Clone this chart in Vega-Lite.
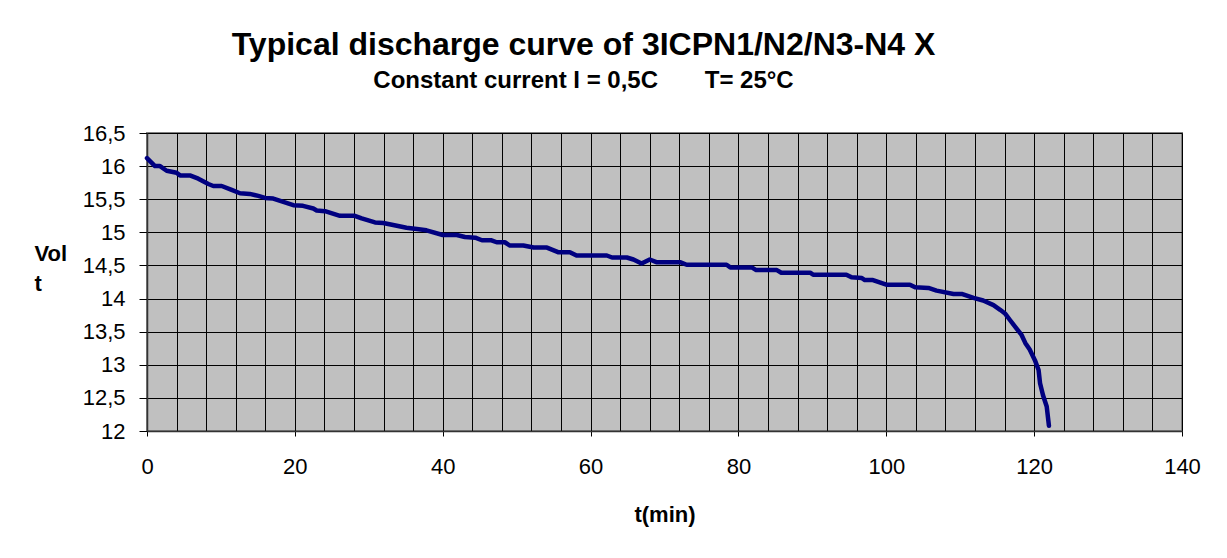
{
  "$schema": "https://vega.github.io/schema/vega-lite/v6.json",
  "width": 1035,
  "height": 298,
  "autosize": {"type": "none"},
  "padding": {"left": 147, "top": 133, "right": 45, "bottom": 127},
  "background": "white",
  "title": {
    "text": "Typical discharge curve of 3ICPN1/N2/N3-N4 X",
    "subtitle": "Constant current I = 0,5C\u00a0\u00a0\u00a0\u00a0\u00a0\u00a0\u00a0T= 25°C",
    "anchor": "middle",
    "frame": "group",
    "dx": -81,
    "offset": 28,
    "font": "Liberation Sans",
    "fontSize": 32,
    "fontWeight": "bold",
    "color": "black",
    "subtitleFont": "Liberation Sans",
    "subtitleFontSize": 24,
    "subtitleFontWeight": "bold",
    "subtitleColor": "black",
    "subtitlePadding": 7
  },
  "config": {
    "view": {"fill": "#C0C0C0", "stroke": "#808080", "strokeWidth": 2},
    "axis": {
      "labelFont": "Liberation Sans",
      "labelFontSize": 22,
      "labelColor": "black",
      "titleFont": "Liberation Sans",
      "titleFontSize": 22,
      "titleFontWeight": "bold",
      "titleColor": "black",
      "gridColor": "black",
      "gridOpacity": 1,
      "gridWidth": 1,
      "domainColor": "#333333",
      "domainWidth": 1.5,
      "tickColor": "black",
      "tickWidth": 1
    }
  },
  "data": {
    "values": [
      {"t": 0, "v": 16.12},
      {"t": 1.08, "v": 16.0},
      {"t": 1.76, "v": 16.0},
      {"t": 2.66, "v": 15.93},
      {"t": 4.0, "v": 15.9},
      {"t": 4.46, "v": 15.86},
      {"t": 5.8, "v": 15.86},
      {"t": 6.94, "v": 15.81},
      {"t": 8.3, "v": 15.73},
      {"t": 8.97, "v": 15.7},
      {"t": 10.1, "v": 15.7},
      {"t": 11.45, "v": 15.64},
      {"t": 12.58, "v": 15.59},
      {"t": 13.9, "v": 15.58},
      {"t": 15.06, "v": 15.55},
      {"t": 15.96, "v": 15.52},
      {"t": 17.08, "v": 15.51},
      {"t": 18.44, "v": 15.46},
      {"t": 19.79, "v": 15.41},
      {"t": 21.1, "v": 15.4},
      {"t": 22.5, "v": 15.36},
      {"t": 22.95, "v": 15.33},
      {"t": 24.08, "v": 15.32},
      {"t": 26.1, "v": 15.25},
      {"t": 28.1, "v": 15.25},
      {"t": 29.04, "v": 15.21},
      {"t": 30.84, "v": 15.15},
      {"t": 31.96, "v": 15.14},
      {"t": 33.3, "v": 15.11},
      {"t": 35.1, "v": 15.07},
      {"t": 36.5, "v": 15.05},
      {"t": 37.8, "v": 15.03},
      {"t": 40.0, "v": 14.96},
      {"t": 41.9, "v": 14.96},
      {"t": 43.0, "v": 14.93},
      {"t": 44.4, "v": 14.92},
      {"t": 45.3, "v": 14.88},
      {"t": 46.6, "v": 14.88},
      {"t": 47.3, "v": 14.85},
      {"t": 48.4, "v": 14.85},
      {"t": 49.1, "v": 14.8},
      {"t": 50.9, "v": 14.8},
      {"t": 52.3, "v": 14.77},
      {"t": 54.1, "v": 14.77},
      {"t": 55.6, "v": 14.7},
      {"t": 57.2, "v": 14.7},
      {"t": 58.1, "v": 14.65},
      {"t": 62.2, "v": 14.65},
      {"t": 62.9, "v": 14.62},
      {"t": 64.9, "v": 14.62},
      {"t": 65.8, "v": 14.59},
      {"t": 66.9, "v": 14.53},
      {"t": 68.0, "v": 14.59},
      {"t": 68.9, "v": 14.55},
      {"t": 72.1, "v": 14.55},
      {"t": 73.0, "v": 14.51},
      {"t": 78.4, "v": 14.51},
      {"t": 78.9, "v": 14.47},
      {"t": 81.8, "v": 14.47},
      {"t": 82.4, "v": 14.43},
      {"t": 85.2, "v": 14.43},
      {"t": 85.8, "v": 14.39},
      {"t": 89.7, "v": 14.39},
      {"t": 90.1, "v": 14.36},
      {"t": 94.6, "v": 14.36},
      {"t": 95.3, "v": 14.32},
      {"t": 96.7, "v": 14.31},
      {"t": 97.1, "v": 14.28},
      {"t": 98.2, "v": 14.28},
      {"t": 100.0, "v": 14.21},
      {"t": 103.2, "v": 14.21},
      {"t": 103.9, "v": 14.17},
      {"t": 105.7, "v": 14.16},
      {"t": 106.8, "v": 14.12},
      {"t": 109.1, "v": 14.07},
      {"t": 110.2, "v": 14.07},
      {"t": 111.8, "v": 14.01},
      {"t": 113.1, "v": 13.97},
      {"t": 114.5, "v": 13.9},
      {"t": 115.4, "v": 13.83},
      {"t": 116.1, "v": 13.77},
      {"t": 116.7, "v": 13.68},
      {"t": 117.6, "v": 13.55},
      {"t": 118.3, "v": 13.45},
      {"t": 118.8, "v": 13.33},
      {"t": 119.4, "v": 13.23},
      {"t": 120.1, "v": 13.07},
      {"t": 120.6, "v": 12.92},
      {"t": 120.8, "v": 12.72},
      {"t": 121.2, "v": 12.54},
      {"t": 121.7, "v": 12.37},
      {"t": 122.0, "v": 12.08}
    ]
  },
  "mark": {"type": "line", "color": "#000080", "strokeWidth": 4.5, "strokeJoin": "round", "strokeCap": "round"},
  "encoding": {
    "x": {
      "field": "t",
      "type": "quantitative",
      "scale": {"domain": [0, 140], "nice": false, "zero": false},
      "axis": {
        "title": "t(min)",
        "values": [0,4,8,12,16,20,24,28,32,36,40,44,48,52,56,60,64,68,72,76,80,84,88,92,96,100,104,108,112,116,120,124,128,132,136,140],
        "labelExpr": "datum.value % 20 === 0 ? datum.label : ''",
        "tickSize": 5,
        "tickOpacity": {"condition": {"test": "datum.value % 20 === 0", "value": 1}, "value": 0},
        "labelPadding": 20,
        "titlePadding": 27,
        "labelFlush": false,
        "labelOverlap": false
      }
    },
    "y": {
      "field": "v",
      "type": "quantitative",
      "scale": {"domain": [12, 16.5], "nice": false, "zero": false},
      "axis": {
        "title": ["Vol", "t"],
        "values": [12, 12.5, 13, 13.5, 14, 14.5, 15, 15.5, 16, 16.5],
        "labelExpr": "replace(format(datum.value, '~g'), '.', ',')",
        "tickSize": 8,
        "labelPadding": 14,
        "labelFlush": false,
        "labelOverlap": false,
        "titleAngle": 0,
        "titleAlign": "left",
        "titleBaseline": "top",
        "titleX": -113,
        "titleY": 110,
        "titleLineHeight": 30
      }
    }
  }
}
